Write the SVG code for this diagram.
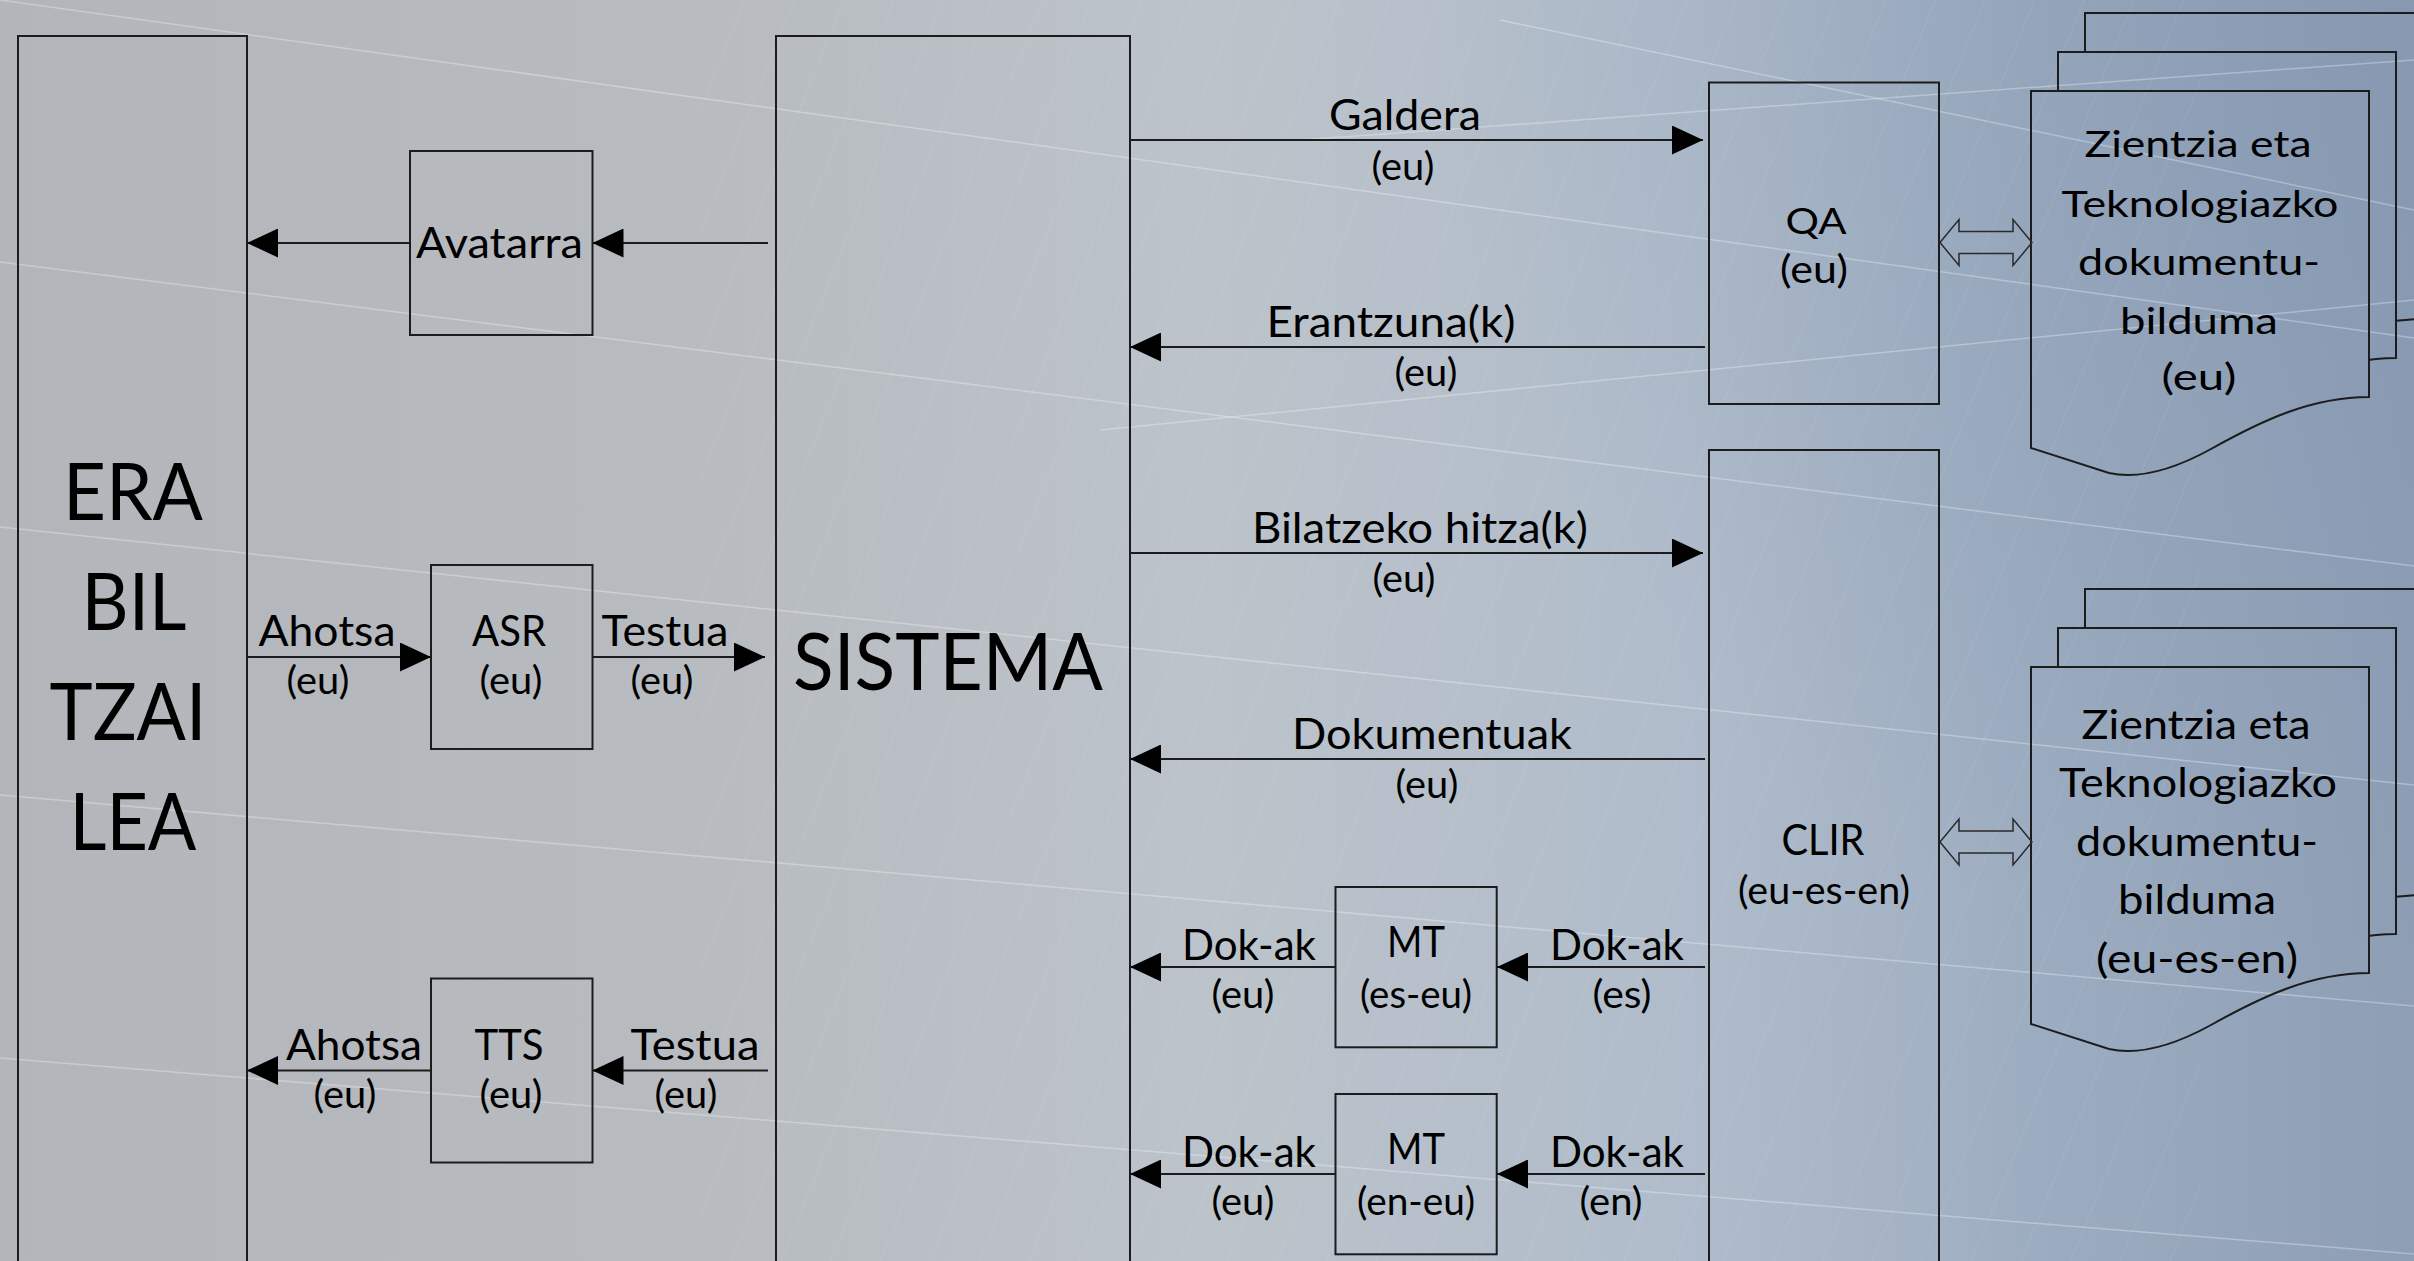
<svg xmlns="http://www.w3.org/2000/svg" width="2414" height="1261" viewBox="0 0 2414 1261">
<defs>
  <linearGradient id="bg" gradientUnits="userSpaceOnUse" x1="0" y1="0" x2="2414" y2="0">
    <stop offset="0" stop-color="#b2b5b9"/>
    <stop offset="0.3" stop-color="#b8bcc1"/>
    <stop offset="0.5" stop-color="#bcc3ca"/>
    <stop offset="0.7" stop-color="#b0bccb"/>
    <stop offset="0.85" stop-color="#9cacc0"/>
    <stop offset="1" stop-color="#8d9eb5"/>
  </linearGradient>
  <radialGradient id="tr" gradientUnits="userSpaceOnUse" cx="2414" cy="0" r="1000">
    <stop offset="0" stop-color="#7e92ad" stop-opacity="0.45"/>
    <stop offset="1" stop-color="#7e92ad" stop-opacity="0"/>
  </radialGradient>
  <pattern id="sc" width="46" height="46" patternUnits="userSpaceOnUse" patternTransform="rotate(22)">
    <line x1="0" y1="0" x2="0" y2="46" stroke="#ffffff" stroke-width="1.2"/>
  </pattern>
  <marker id="ah" markerUnits="userSpaceOnUse" markerWidth="31" markerHeight="29" refX="31" refY="14.5" orient="auto">
    <path d="M0,0 L31,14.5 L0,29 Z" fill="#000"/>
  </marker>
  <path id="page" d="M0,0 H338 V306 C280,306 230,330 180,358 C140,380 105,388 78,382 L0,357 Z"/>
  <mask id="m1mid" maskUnits="userSpaceOnUse" x="0" y="0" width="2414" height="1261">
    <rect x="0" y="0" width="2414" height="1261" fill="#fff"/>
    <use href="#page" transform="translate(2031,91)" fill="#000"/>
  </mask>
  <mask id="m1back" maskUnits="userSpaceOnUse" x="0" y="0" width="2414" height="1261">
    <rect x="0" y="0" width="2414" height="1261" fill="#fff"/>
    <use href="#page" transform="translate(2031,91)" fill="#000"/>
    <use href="#page" transform="translate(2058,52)" fill="#000"/>
  </mask>
  <mask id="m2mid" maskUnits="userSpaceOnUse" x="0" y="0" width="2414" height="1261">
    <rect x="0" y="0" width="2414" height="1261" fill="#fff"/>
    <use href="#page" transform="translate(2031,667)" fill="#000"/>
  </mask>
  <mask id="m2back" maskUnits="userSpaceOnUse" x="0" y="0" width="2414" height="1261">
    <rect x="0" y="0" width="2414" height="1261" fill="#fff"/>
    <use href="#page" transform="translate(2031,667)" fill="#000"/>
    <use href="#page" transform="translate(2058,628)" fill="#000"/>
  </mask>
</defs>
<style>
  .box{fill:none;stroke:#1c1c1c;stroke-width:2}
  .pg{fill:none;stroke:#1c1c1c;stroke-width:2}
  .edge{fill:none;stroke:#1c1c1c;stroke-width:2;marker-end:url(#ah)}
  .dbl{fill:none;stroke:#2a2a2a;stroke-width:1.5}
  text{font-family:Lato,"Liberation Sans",sans-serif;fill:#000;text-anchor:middle}
  .big{font-size:80px}
  .lb{font-size:43px}
  .pr{font-size:38px}
  .d1{font-size:37px}
  .d2{font-size:40px}
  .tex{stroke:#ffffff;stroke-opacity:0.3;stroke-width:1.5;fill:none}
</style>

<g id="background">
  <rect x="0" y="0" width="2414" height="1261" fill="url(#bg)"/>
  <rect x="0" y="0" width="2414" height="1261" fill="url(#tr)"/>
  <rect x="700" y="0" width="1500" height="1261" fill="url(#sc)" opacity="0.12"/>
  <path class="tex" d="M0,0 L2414,338"/>
  <path class="tex" d="M0,262 L2414,566"/>
  <path class="tex" d="M0,527 L2414,785"/>
  <path class="tex" d="M0,795 L2414,1006"/>
  <path class="tex" d="M0,1058 L2414,1254"/>
  <path class="tex" d="M1100,430 L2414,300"/>
  <path class="tex" d="M1300,140 L2414,60"/>
  <path class="tex" d="M1500,20 L2414,210"/>
</g>

<g id="node-user">
  <rect class="box" x="18" y="36" width="229" height="1240"/>
  <text class="big" x="133" y="520" textLength="140" lengthAdjust="spacingAndGlyphs">ERA</text>
  <text class="big" x="134" y="630" textLength="105" lengthAdjust="spacingAndGlyphs">BIL</text>
  <text class="big" x="128" y="740" textLength="157" lengthAdjust="spacingAndGlyphs">TZAI</text>
  <text class="big" x="133" y="850" textLength="127" lengthAdjust="spacingAndGlyphs">LEA</text>
</g>

<g id="node-avatar">
  <rect class="box" x="410" y="151" width="182.5" height="184"/>
  <text class="lb" x="499.5" y="258" textLength="167" lengthAdjust="spacingAndGlyphs">Avatarra</text>
</g>

<g id="node-asr">
  <rect class="box" x="431" y="565" width="161.5" height="184"/>
  <text class="lb" x="509" y="646" textLength="74" lengthAdjust="spacingAndGlyphs">ASR</text>
  <text class="pr" x="511" y="694" textLength="63" lengthAdjust="spacingAndGlyphs">(eu)</text>
</g>

<g id="node-tts">
  <rect class="box" x="431" y="978.5" width="161.5" height="184"/>
  <text class="lb" x="509" y="1060" textLength="69" lengthAdjust="spacingAndGlyphs">TTS</text>
  <text class="pr" x="511" y="1108" textLength="63" lengthAdjust="spacingAndGlyphs">(eu)</text>
</g>

<g id="node-sistema">
  <rect class="box" x="776" y="36" width="354" height="1240"/>
  <text class="big" x="948" y="690" textLength="310" lengthAdjust="spacingAndGlyphs">SISTEMA</text>
</g>

<g id="node-qa">
  <rect class="box" x="1709" y="82.5" width="230" height="321.5"/>
  <text x="1816" y="234" style="font-size:37px" textLength="61" lengthAdjust="spacingAndGlyphs">QA</text>
  <text class="pr" x="1814" y="283" textLength="68" lengthAdjust="spacingAndGlyphs">(eu)</text>
</g>

<g id="node-clir">
  <rect class="box" x="1709" y="450" width="230" height="830"/>
  <text class="lb" x="1823" y="855" textLength="83" lengthAdjust="spacingAndGlyphs">CLIR</text>
  <text class="pr" x="1824" y="904" textLength="172" lengthAdjust="spacingAndGlyphs">(eu-es-en)</text>
</g>

<g id="node-mt-es">
  <rect class="box" x="1335.5" y="887" width="161.2" height="160.3"/>
  <text class="lb" x="1416" y="957" textLength="58" lengthAdjust="spacingAndGlyphs">MT</text>
  <text class="pr" x="1416" y="1008" textLength="112" lengthAdjust="spacingAndGlyphs">(es-eu)</text>
</g>

<g id="node-mt-en">
  <rect class="box" x="1335.5" y="1094" width="161.2" height="160.3"/>
  <text class="lb" x="1416" y="1164" textLength="58" lengthAdjust="spacingAndGlyphs">MT</text>
  <text class="pr" x="1416" y="1215" textLength="118" lengthAdjust="spacingAndGlyphs">(en-eu)</text>
</g>

<g id="node-doc-eu">
  <g mask="url(#m1back)"><use href="#page" class="pg" transform="translate(2085,13)"/></g>
  <g mask="url(#m1mid)"><use href="#page" class="pg" transform="translate(2058,52)"/></g>
  <use href="#page" class="pg" transform="translate(2031,91)"/>
  <text class="d1" x="2198" y="157" textLength="227" lengthAdjust="spacingAndGlyphs">Zientzia eta</text>
  <text class="d1" x="2200" y="216.5" textLength="277" lengthAdjust="spacingAndGlyphs">Teknologiazko</text>
  <text class="d1" x="2199" y="275" textLength="242" lengthAdjust="spacingAndGlyphs">dokumentu-</text>
  <text class="d1" x="2199" y="333.5" textLength="158" lengthAdjust="spacingAndGlyphs">bilduma</text>
  <text class="d1" x="2199" y="390" textLength="75" lengthAdjust="spacingAndGlyphs">(eu)</text>
</g>

<g id="node-doc-multi">
  <g mask="url(#m2back)"><use href="#page" class="pg" transform="translate(2085,589)"/></g>
  <g mask="url(#m2mid)"><use href="#page" class="pg" transform="translate(2058,628)"/></g>
  <use href="#page" class="pg" transform="translate(2031,667)"/>
  <text class="d2" x="2196" y="739" textLength="229" lengthAdjust="spacingAndGlyphs">Zientzia eta</text>
  <text class="d2" x="2198" y="797" textLength="278" lengthAdjust="spacingAndGlyphs">Teknologiazko</text>
  <text class="d2" x="2197" y="856" textLength="242" lengthAdjust="spacingAndGlyphs">dokumentu-</text>
  <text class="d2" x="2197" y="914" textLength="158" lengthAdjust="spacingAndGlyphs">bilduma</text>
  <text class="d2" x="2197" y="973" textLength="202" lengthAdjust="spacingAndGlyphs">(eu-es-en)</text>
</g>

<g id="connectors">
  <g id="e-avatar-user"><path class="edge" d="M410,243 H247"/></g>
  <g id="e-sistema-avatar"><path class="edge" d="M768,243 H592.5"/></g>
  <g id="e-user-asr">
    <path class="edge" d="M247,657 H431"/>
    <text class="lb" x="327" y="646" textLength="137" lengthAdjust="spacingAndGlyphs">Ahotsa</text>
    <text class="pr" x="318" y="694" textLength="63" lengthAdjust="spacingAndGlyphs">(eu)</text>
  </g>
  <g id="e-asr-sistema">
    <path class="edge" d="M592.5,657 H765"/>
    <text class="lb" x="665" y="646" textLength="127" lengthAdjust="spacingAndGlyphs">Testua</text>
    <text class="pr" x="662" y="694" textLength="63" lengthAdjust="spacingAndGlyphs">(eu)</text>
  </g>
  <g id="e-sistema-tts">
    <path class="edge" d="M768,1070.5 H592.5"/>
    <text class="lb" x="695" y="1060" textLength="129" lengthAdjust="spacingAndGlyphs">Testua</text>
    <text class="pr" x="686" y="1108" textLength="63" lengthAdjust="spacingAndGlyphs">(eu)</text>
  </g>
  <g id="e-tts-user">
    <path class="edge" d="M431,1070.5 H247"/>
    <text class="lb" x="354" y="1060" textLength="136" lengthAdjust="spacingAndGlyphs">Ahotsa</text>
    <text class="pr" x="345" y="1108" textLength="63" lengthAdjust="spacingAndGlyphs">(eu)</text>
  </g>
  <g id="e-sistema-qa">
    <path class="edge" d="M1130,140 H1703"/>
    <text class="lb" x="1405" y="130" textLength="152" lengthAdjust="spacingAndGlyphs">Galdera</text>
    <text class="pr" x="1403" y="180" textLength="63" lengthAdjust="spacingAndGlyphs">(eu)</text>
  </g>
  <g id="e-qa-sistema">
    <path class="edge" d="M1705,347 H1130"/>
    <text class="lb" x="1391" y="337" textLength="249" lengthAdjust="spacingAndGlyphs">Erantzuna(k)</text>
    <text class="pr" x="1426" y="386" textLength="63" lengthAdjust="spacingAndGlyphs">(eu)</text>
  </g>
  <g id="e-sistema-clir">
    <path class="edge" d="M1130,553 H1703"/>
    <text class="lb" x="1420" y="543" textLength="336" lengthAdjust="spacingAndGlyphs">Bilatzeko hitza(k)</text>
    <text class="pr" x="1404" y="592" textLength="63" lengthAdjust="spacingAndGlyphs">(eu)</text>
  </g>
  <g id="e-clir-sistema">
    <path class="edge" d="M1705,759 H1130"/>
    <text class="lb" x="1432" y="749" textLength="280" lengthAdjust="spacingAndGlyphs">Dokumentuak</text>
    <text class="pr" x="1427" y="798" textLength="63" lengthAdjust="spacingAndGlyphs">(eu)</text>
  </g>
  <g id="e-clir-mtes">
    <path class="edge" d="M1705,967 H1497"/>
    <text class="lb" x="1617" y="960" textLength="134" lengthAdjust="spacingAndGlyphs">Dok-ak</text>
    <text class="pr" x="1622" y="1008" textLength="59" lengthAdjust="spacingAndGlyphs">(es)</text>
  </g>
  <g id="e-mtes-sistema">
    <path class="edge" d="M1335.5,967 H1130"/>
    <text class="lb" x="1249" y="960" textLength="134" lengthAdjust="spacingAndGlyphs">Dok-ak</text>
    <text class="pr" x="1243" y="1008" textLength="63" lengthAdjust="spacingAndGlyphs">(eu)</text>
  </g>
  <g id="e-clir-mten">
    <path class="edge" d="M1705,1174 H1497"/>
    <text class="lb" x="1617" y="1167" textLength="134" lengthAdjust="spacingAndGlyphs">Dok-ak</text>
    <text class="pr" x="1611" y="1215" textLength="63" lengthAdjust="spacingAndGlyphs">(en)</text>
  </g>
  <g id="e-mten-sistema">
    <path class="edge" d="M1335.5,1174 H1130"/>
    <text class="lb" x="1249" y="1167" textLength="134" lengthAdjust="spacingAndGlyphs">Dok-ak</text>
    <text class="pr" x="1243" y="1215" textLength="63" lengthAdjust="spacingAndGlyphs">(eu)</text>
  </g>
  <g id="e-qa-doc">
    <path class="dbl" d="M1940,242.5 L1959,219.5 V231.5 H2013 V219.5 L2032,242.5 L2013,265.5 V253.5 H1959 V265.5 Z"/>
  </g>
  <g id="e-clir-doc">
    <path class="dbl" d="M1940,842 L1959,819 V831 H2013 V819 L2032,842 L2013,865 V853 H1959 V865 Z"/>
  </g>
</g>
</svg>
